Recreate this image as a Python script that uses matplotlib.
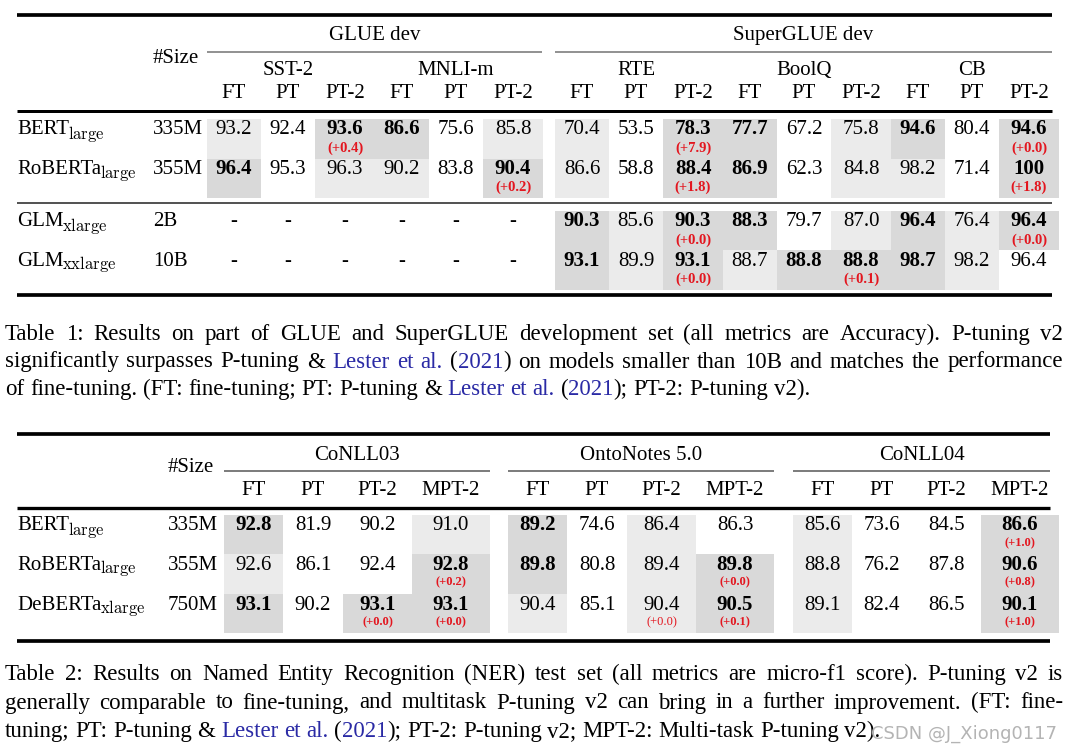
import matplotlib
matplotlib.use('Agg')
import matplotlib.pyplot as plt
from matplotlib.patches import Rectangle

# ---------------- data ----------------
t1_groups = ['GLUE dev', 'SuperGLUE dev']
t1_tasks = ['SST-2', 'MNLI-m', 'RTE', 'BoolQ', 'CB']
t1_methods = ['FT', 'PT', 'PT-2']
t1_models = ['BERT', 'RoBERTa', 'GLM', 'GLM']
t1_model_subs = ['large', 'large', 'xlarge', 'xxlarge']
t1_sizes = ['335M', '355M', '2B', '10B']
t1_values = [
    ['93.2', '92.4', '93.6', '86.6', '75.6', '85.8', '70.4', '53.5', '78.3', '77.7', '67.2', '75.8', '94.6', '80.4', '94.6'],
    ['96.4', '95.3', '96.3', '90.2', '83.8', '90.4', '86.6', '58.8', '88.4', '86.9', '62.3', '84.8', '98.2', '71.4', '100'],
    ['-', '-', '-', '-', '-', '-', '90.3', '85.6', '90.3', '88.3', '79.7', '87.0', '96.4', '76.4', '96.4'],
    ['-', '-', '-', '-', '-', '-', '93.1', '89.9', '93.1', '88.7', '88.8', '88.8', '98.7', '98.2', '96.4'],
]
# 0 = no shading, 1 = light gray, 2 = dark gray (best, bold)
t1_shade = [
    [1, 0, 2, 2, 0, 1, 1, 0, 2, 2, 0, 1, 2, 0, 2],
    [2, 0, 1, 1, 0, 2, 1, 0, 2, 2, 0, 1, 1, 0, 2],
    [0, 0, 0, 0, 0, 0, 2, 1, 2, 2, 0, 1, 2, 1, 2],
    [0, 0, 0, 0, 0, 0, 2, 1, 2, 1, 2, 2, 2, 1, 0],
]
t1_deltas = [
    ['', '', '+0.4', '', '', '', '', '', '+7.9', '', '', '', '', '', '+0.0'],
    ['', '', '', '', '', '+0.2', '', '', '+1.8', '', '', '', '', '', '+1.8'],
    ['', '', '', '', '', '', '', '', '+0.0', '', '', '', '', '', '+0.0'],
    ['', '', '', '', '', '', '', '', '+0.0', '', '', '+0.1', '', '', ''],
]

t2_datasets = ['CoNLL03', 'OntoNotes 5.0', 'CoNLL04']
t2_methods = ['FT', 'PT', 'PT-2', 'MPT-2']
t2_models = ['BERT', 'RoBERTa', 'DeBERTa']
t2_model_subs = ['large', 'large', 'xlarge']
t2_sizes = ['335M', '355M', '750M']
t2_values = [
    ['92.8', '81.9', '90.2', '91.0', '89.2', '74.6', '86.4', '86.3', '85.6', '73.6', '84.5', '86.6'],
    ['92.6', '86.1', '92.4', '92.8', '89.8', '80.8', '89.4', '89.8', '88.8', '76.2', '87.8', '90.6'],
    ['93.1', '90.2', '93.1', '93.1', '90.4', '85.1', '90.4', '90.5', '89.1', '82.4', '86.5', '90.1'],
]
t2_shade = [
    [2, 0, 0, 1, 2, 0, 1, 0, 1, 0, 0, 2],
    [1, 0, 0, 2, 2, 0, 1, 2, 1, 0, 0, 2],
    [2, 0, 2, 2, 1, 0, 1, 2, 1, 0, 0, 2],
]
t2_deltas = [
    ['', '', '', '', '', '', '', '', '', '', '', '+1.0'],
    ['', '', '', '+0.2', '', '', '', '+0.0', '', '', '', '+0.8'],
    ['', '', '+0.0', '+0.0', '', '', '+0.0', '+0.1', '', '', '', '+1.0'],
]

cap1 = [
    "Table 1: Results on part of GLUE and SuperGLUE development set (all metrics are Accuracy).  P-tuning v2",
    "significantly surpasses P-tuning & {Lester} {et} {al.} ({2021}) on models smaller than 10B and matches the performance",
    "of fine-tuning. (FT: fine-tuning; PT: P-tuning & {Lester} {et} {al.} ({2021}); PT-2: P-tuning v2).",
]
cap2 = [
    "Table 2: Results on Named Entity Recognition (NER) test set (all metrics are micro-f1 score).  P-tuning v2 is",
    "generally comparable to fine-tuning, and multitask P-tuning v2 can bring in a further improvement.  (FT: fine-",
    "tuning; PT: P-tuning & {Lester} {et} {al.} ({2021}); PT-2: P-tuning v2; MPT-2: Multi-task P-tuning v2).",
]
watermark = 'CSDN @J_Xiong0117'

# ---------------- style ----------------
W, H = 1071, 751
SERIF = ['Liberation Serif', 'DejaVu Serif']
FS = 15.0
DELTA_RED = '#e3161f'
LINK = '#2a2aa5'
SHADES = {1: '#ebebeb', 2: '#d9d9d9'}
PT_PER_PX = 0.72

fig = plt.figure(figsize=(W / 100, H / 100), dpi=100)
ax = fig.add_axes([0, 0, 1, 1])
ax.set_xlim(0, W)
ax.set_ylim(H, 0)
ax.axis('off')
renderer = fig.canvas.get_renderer()


def txt(x, y, s, size=FS, ha='center', weight='normal', color='black', **kw):
    return ax.text(x, y, s, fontsize=size, ha=ha, va='baseline', fontweight=weight,
                   color=color, family=SERIF, **kw)


def rule(x0, x1, y, px, color='black'):
    ax.plot([x0, x1], [y, y], lw=px * PT_PER_PX, color=color, solid_capstyle='butt')


def label(x, y, main, sub):
    t = txt(x, y, main, ha='left')
    bb = t.get_window_extent(renderer)
    ax.text(bb.x1 - 1.5, y + 4, r'$\mathrm{%s}$' % sub, fontsize=12, ha='left', va='baseline',
            math_fontfamily='cm')


def col_edges(starts, widths):
    edges = []
    for s in starts:
        x = s
        for w in widths:
            edges.append((x, x + w))
            x += w
    return edges


def draw_cells(values, shade, deltas, edges, row_tops, row_h, num_off, delta_off, delta_size):
    for r, row in enumerate(values):
        for c, v in enumerate(row):
            x0, x1 = edges[c]
            lvl = shade[r][c]
            if lvl:
                ax.add_patch(Rectangle((x0, row_tops[r]), x1 - x0, row_h[r], facecolor=SHADES[lvl],
                                       edgecolor='none', zorder=0))
            bold = 'bold' if lvl == 2 else 'normal'
            xc = (x0 + x1) / 2
            txt(xc, row_tops[r] + num_off, v, weight=bold)
            if deltas[r][c]:
                txt(xc, row_tops[r] + delta_off, '(%s)' % deltas[r][c], size=delta_size,
                    weight=bold, color=DELTA_RED)


# ---------------- Table 1 ----------------
t1_edges = col_edges([207], [54, 54, 60] * 2) + col_edges([555], [54, 54, 60] * 3)
t1_x0, t1_x1 = 17, 1052
rule(t1_x0, t1_x1, 14.5, 3.7)
for g, (a, b) in zip(t1_groups, [(207, 542), (555, 1052)]):
    txt((a + b) / 2, 40, g)
    rule(a, b, 51.5, 1.5, '#707070')
txt(153, 63, '#Size', ha='left')
for i, task in enumerate(t1_tasks):
    a, b = t1_edges[i * 3 + 1]
    txt((a + b) / 2, 75, task)
for c, (a, b) in enumerate(t1_edges):
    txt((a + b) / 2, 98, t1_methods[c % 3])
rule(t1_x0, t1_x1, 110.5, 3.0)
t1_tops = [119, 158.5, 211, 250]
t1_h = [39.5, 39.5, 39, 40]
draw_cells(t1_values, t1_shade, t1_deltas, t1_edges, t1_tops, t1_h, 15.5, 32.5, 10.5)
for r in range(4):
    label(17, t1_tops[r] + 15.5, t1_models[r], t1_model_subs[r])
    txt(153, t1_tops[r] + 15.5, t1_sizes[r], ha='left')
rule(t1_x0, t1_x1, 202.5, 2.0, '#555555')
rule(t1_x0, t1_x1, 295, 3.7)

# ---------------- Table 2 ----------------
t2_starts = [224, 508, 793]
t2_w = [59, 60, 69, 78]
t2_edges = col_edges(t2_starts, t2_w)
t2_x0, t2_x1 = 17, 1050
rule(t2_x0, t2_x1, 434, 3.7)
for d, s in zip(t2_datasets, t2_starts):
    b = min(s + sum(t2_w), t2_x1)
    txt((s + b) / 2, 460, d)
    rule(s, b, 471, 1.8, '#707070')
txt(168, 472, '#Size', ha='left')
for c, (a, b) in enumerate(t2_edges):
    txt((a + b) / 2, 495, t2_methods[c % 4])
rule(t2_x0, t2_x1, 507.5, 3.3)
t2_tops = [515, 554, 594]
t2_h = [39, 40, 39]
draw_cells(t2_values, t2_shade, t2_deltas, t2_edges, t2_tops, t2_h, 15.5, 31.5, 9)
for r in range(3):
    label(17, t2_tops[r] + 15.5, t2_models[r], t2_model_subs[r])
    txt(168, t2_tops[r] + 15.5, t2_sizes[r], ha='left')
rule(t2_x0, t2_x1, 641, 3.7)


# ---------------- captions ----------------
def parse_word(w):
    segs = []
    buf = ''
    blue = False
    for ch in w:
        if ch == '{':
            if buf:
                segs.append((buf, 'black'))
            buf = ''
            blue = True
        elif ch == '}':
            segs.append((buf, LINK))
            buf = ''
            blue = False
        else:
            buf += ch
    if buf:
        segs.append((buf, LINK if blue else 'black'))
    return segs


def seg_width(s, size):
    t = ax.text(0, 0, s, fontsize=size, family=SERIF)
    w = t.get_window_extent(renderer).width
    t.remove()
    return w


def caption(lines, x0, x1, y0, dy, size):
    parsed = [[parse_word(w) for w in ln.split(' ') if w] for ln in lines]

    def measure(sz):
        out = []
        for words in parsed:
            out.append([[seg_width(s, sz) for s, _ in w] for w in words])
        return out
    space = size * 100 / 72 * 0.25
    ws = measure(size)
    need = max(sum(sum(w) for w in wl) + space * 0.8 * (len(wl) - 1) for wl in ws[:-1])
    if need > (x1 - x0):
        size = size * (x1 - x0) / need
        ws = measure(size)
        space = size * 100 / 72 * 0.25
    for i, (words, wl) in enumerate(zip(parsed, ws)):
        y = y0 + i * dy
        tot = sum(sum(w) for w in wl)
        if i < len(parsed) - 1:
            gap = ((x1 - x0) - tot) / (len(words) - 1)
        else:
            gap = space
        x = x0
        for w, wwid in zip(words, wl):
            xx = x
            for (s, col), sw in zip(w, wwid):
                ax.text(xx, y, s, fontsize=size, family=SERIF, color=col, ha='left', va='baseline')
                xx += sw
            x += sum(wwid) + gap


caption(cap1, 5, 1063, 340, 27.5, 16.5)
caption(cap2, 5, 1063, 680, 28.5, 16.5)

ax.text(1057, 739, watermark, fontsize=13, family=['DejaVu Sans'], color='#b4b4b4',
        ha='right', va='baseline')

fig.savefig('out.png', dpi=100)
